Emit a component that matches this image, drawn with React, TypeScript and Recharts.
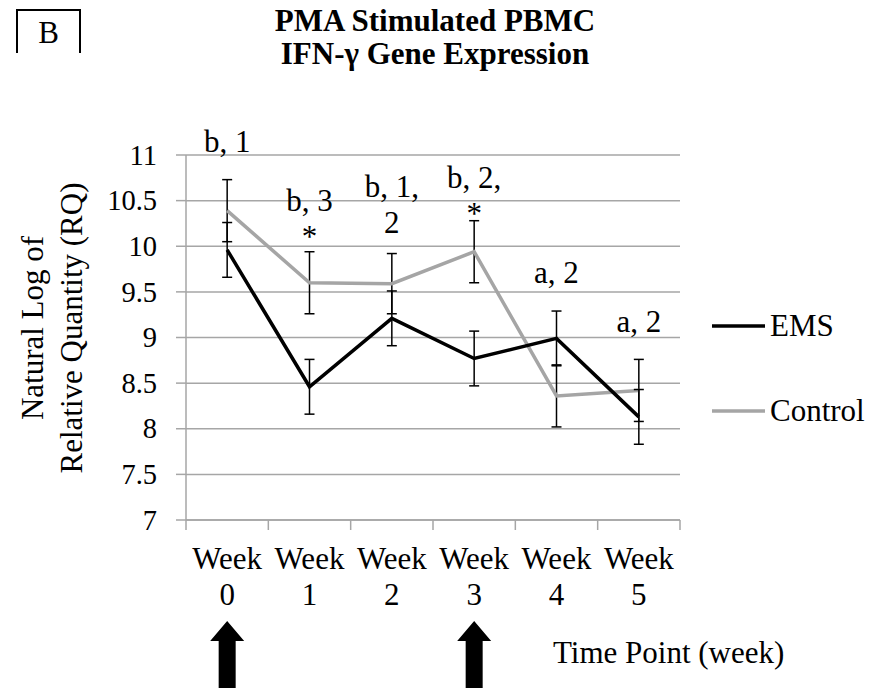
import React from 'react';
import {
  LineChart,
  Line,
  XAxis,
  YAxis,
  CartesianGrid,
  ErrorBar,
  ReferenceDot,
  Legend,
} from 'recharts';

// ---- data ----
const weeks = ['Week 0', 'Week 1', 'Week 2', 'Week 3', 'Week 4', 'Week 5'];
const emsValues = [9.96, 8.46, 9.21, 8.77, 8.99, 8.13];
const emsErrors = [0.3, 0.3, 0.3, 0.3, 0.3, 0.3];
const controlValues = [10.39, 9.6, 9.59, 9.94, 8.36, 8.42];
const controlErrors = [0.34, 0.34, 0.33, 0.34, 0.34, 0.34];
const yTicks = [7, 7.5, 8, 8.5, 9, 9.5, 10, 10.5, 11];
const significance = [['b, 1'], ['b, 3', '*'], ['b, 1,', '2'], ['b, 2,', '*'], ['a, 2'], ['a, 2']];
const treatmentWeeks = ['Week 0', 'Week 3'];

const rows = weeks.map((week, i) => ({
  week,
  ems: emsValues[i],
  emsErr: emsErrors[i],
  control: controlValues[i],
  controlErr: controlErrors[i],
}));

// ---- layout / style ----
const SERIF = '"Liberation Serif", "Times New Roman", Times, serif';
const AXIS_GRAY = '#a6a6a6';
const CONTROL_GRAY = '#a5a5a5';
const FONT = 31;
const textStyle = (size: number, weight: string = 'normal') => ({
  fontFamily: SERIF,
  fontSize: size,
  fontWeight: weight,
  fill: '#000',
});
// value-axis level of the first line of each significance note
const NOTE_LEVEL = [11.03, 10.39, 10.54, 10.64, 9.6, 9.06];
const NOTE_LINE_GAP = 36;

function WeekTick(props: any) {
  const { x, y, payload, index, visibleTicksCount, width } = props;
  const half = payload?.offset ? payload.offset : width / visibleTicksCount / 2;
  const [word, num] = String(payload.value).split(' ');
  const isLast = index === visibleTicksCount - 1;
  const dosed = treatmentWeeks.includes(payload.value);
  return (
    <g>
      <line x1={x - half} x2={x - half} y1={y} y2={y + 10} stroke={AXIS_GRAY} strokeWidth={1.5} />
      {isLast && (
        <line x1={x + half} x2={x + half} y1={y} y2={y + 10} stroke={AXIS_GRAY} strokeWidth={1.5} />
      )}
      <text x={x} y={y + 49} textAnchor="middle" style={textStyle(FONT)}>
        {word}
      </text>
      <text x={x} y={y + 85} textAnchor="middle" style={textStyle(FONT)}>
        {num}
      </text>
      {dosed && (
        <polygon
          points={[
            [x, y + 101],
            [x + 17, y + 121],
            [x + 8.5, y + 121],
            [x + 8.5, y + 170],
            [x - 8.5, y + 170],
            [x - 8.5, y + 121],
            [x - 17, y + 121],
          ]
            .map((p) => p.join(','))
            .join(' ')}
          fill="#000"
        />
      )}
    </g>
  );
}

function ValueTick(props: any) {
  const { x, y, payload } = props;
  return (
    <text x={x} y={y} dy="0.34em" textAnchor="end" style={textStyle(28.5)}>
      {payload.value}
    </text>
  );
}

function NoteShape(lines: string[]) {
  return (props: any) => (
    <g>
      {lines.map((t, k) => (
        <text
          key={k}
          x={props.cx}
          y={props.cy + k * NOTE_LINE_GAP}
          textAnchor="middle"
          style={textStyle(FONT)}
        >
          {t}
        </text>
      ))}
    </g>
  );
}

const renderLegend = (props: any) => {
  const items = [...(props.payload ?? [])].reverse();
  return (
    <svg width={180} height={150} style={{ display: 'block', overflow: 'visible' }}>
      {items.map((it: any, i: number) => (
        <g key={it.value}>
          <line x1={7} x2={60} y1={36 + i * 85} y2={36 + i * 85} stroke={it.color} strokeWidth={3.5} />
          <text x={65} y={46 + i * 85} style={textStyle(FONT)}>
            {it.value}
          </text>
        </g>
      ))}
    </svg>
  );
};

export default function App() {
  return (
    <div
      style={{
        position: 'absolute',
        left: 0,
        top: 0,
        width: 886,
        height: 688,
        background: '#fff',
        overflow: 'hidden',
        fontFamily: SERIF,
      }}
    >
      <LineChart
        width={886}
        height={688}
        data={rows}
        margin={{ top: 155, right: 206, bottom: 0, left: 0 }}
      >
        <CartesianGrid vertical={false} stroke={AXIS_GRAY} strokeWidth={1.5} />
        <XAxis
          dataKey="week"
          scale="band"
          height={168}
          interval={0}
          tickLine={false}
          tickSize={0}
          tickMargin={0}
          axisLine={{ stroke: AXIS_GRAY, strokeWidth: 1.5 }}
          tick={<WeekTick />}
        />
        <YAxis
          width={186}
          domain={[7, 11]}
          ticks={yTicks}
          type="number"
          allowDataOverflow
          tickSize={10}
          tickMargin={19}
          axisLine={{ stroke: AXIS_GRAY, strokeWidth: 1.5 }}
          tickLine={{ stroke: AXIS_GRAY, strokeWidth: 1.5 }}
          tick={<ValueTick />}
        />
        <Line
          type="linear"
          dataKey="control"
          name="Control"
          stroke={CONTROL_GRAY}
          strokeWidth={3.5}
          dot={false}
          activeDot={false}
          isAnimationActive={false}
        >
          <ErrorBar dataKey="controlErr" width={5} stroke="#000" strokeWidth={1.5} isAnimationActive={false} />
        </Line>
        <Line
          type="linear"
          dataKey="ems"
          name="EMS"
          stroke="#000"
          strokeWidth={3.5}
          dot={false}
          activeDot={false}
          isAnimationActive={false}
        >
          <ErrorBar dataKey="emsErr" width={5} stroke="#000" strokeWidth={1.5} isAnimationActive={false} />
        </Line>
        {weeks.map((w, i) => (
          <ReferenceDot
            key={w}
            x={w}
            y={NOTE_LEVEL[i]}
            r={0}
            ifOverflow="visible"
            shape={NoteShape(significance[i])}
          />
        ))}
        <Legend
          layout="vertical"
          align="center"
          verticalAlign="middle"
          content={renderLegend}
          wrapperStyle={{ left: 705, top: 290, width: 180 }}
        />
      </LineChart>
      <svg
        width={886}
        height={688}
        style={{ position: 'absolute', left: 0, top: 0, pointerEvents: 'none' }}
      >
        <path d="M17 53 V10 H80 V53" fill="none" stroke="#000" strokeWidth={2} />
        <text x={48.5} y={43} textAnchor="middle" style={textStyle(FONT)}>
          B
        </text>
        <text x={435} y={31} textAnchor="middle" style={textStyle(FONT, 'bold')}>
          PMA Stimulated PBMC
        </text>
        <text x={435} y={64} textAnchor="middle" style={textStyle(FONT, 'bold')}>
          IFN-γ Gene Expression
        </text>
        <text transform="translate(43,328) rotate(-90)" textAnchor="middle" style={textStyle(FONT)}>
          Natural Log of
        </text>
        <text transform="translate(82,328) rotate(-90)" textAnchor="middle" style={textStyle(FONT)}>
          Relative Quantity (RQ)
        </text>
        <text x={553} y={663} style={textStyle(FONT)}>
          Time Point (week)
        </text>
      </svg>
    </div>
  );
}
